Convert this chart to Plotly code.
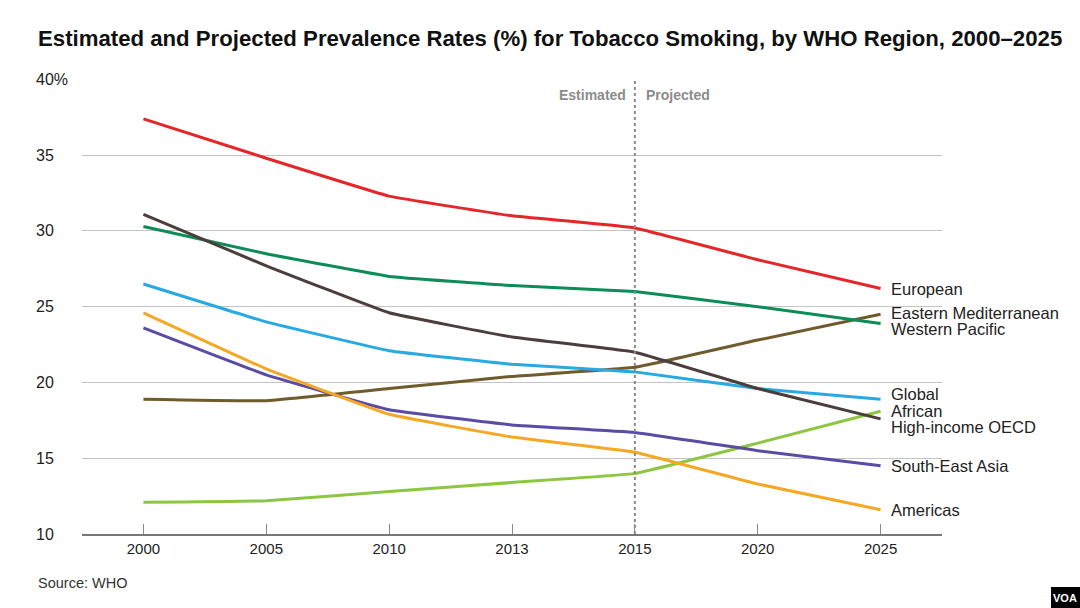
import plotly.graph_objects as go

years = ["2000", "2005", "2010", "2013", "2015", "2020", "2025"]

european = [37.4, 34.8, 32.3, 31.0, 30.2, 28.1, 26.2]
western_pacific = [30.3, 28.5, 27.0, 26.4, 26.0, 25.0, 23.9]
high_income_oecd = [31.1, 27.7, 24.6, 23.0, 22.0, 19.6, 17.6]
global_ = [26.5, 24.0, 22.1, 21.2, 20.7, 19.6, 18.9]
eastern_med = [18.9, 18.8, 19.6, 20.4, 21.0, 22.8, 24.5]
south_east_asia = [23.6, 20.5, 18.2, 17.2, 16.7, 15.5, 14.5]
americas = [24.6, 20.9, 17.9, 16.4, 15.4, 13.3, 11.6]
african = [12.1, 12.2, 12.8, 13.4, 14.0, 16.0, 18.1]

series_names = ["European", "Eastern Mediterranean", "Western Pacific", "Global",
                "African", "High-income OECD", "South-East Asia", "Americas"]
series_values = [european, eastern_med, western_pacific, global_,
                 african, high_income_oecd, south_east_asia, americas]
series_colors = ["#e52629", "#6f5b2c", "#0c8c57", "#27a9e1",
                 "#8dc641", "#4b3e3c", "#5b4ba3", "#f5a824"]
label_yshift = [0, 1, -6, 5, 0, -8, 0, 0]

y_tick_vals = [10, 15, 20, 25, 30, 35, 40]
y_tick_text = ["10", "15", "20", "25", "30", "35", "40%"]

divider_year = "2015"

W, H = 1080, 608
L, R, T, B = 82, 138, 79, 74
PW, PH = W - L - R, H - T - B
FONT = "Liberation Sans, Arial, sans-serif"


def px_to_paper(px, py):
    return (px - L) / PW, (H - B - py) / PH


last_idx = len(years) - 1
div_idx = years.index(divider_year)

fig = go.Figure()

for name, vals, col in zip(series_names, series_values, series_colors):
    fig.add_trace(go.Scatter(
        x=list(range(len(years))), y=vals, mode="lines", name=name,
        line=dict(color=col, width=3, shape="spline", smoothing=0.25),
        hovertemplate=name + ": %{y}<extra></extra>",
    ))

annotations = []
for name, vals, col, ys in zip(series_names, series_values, series_colors, label_yshift):
    annotations.append(dict(
        x=last_idx, y=vals[-1], xref="x", yref="y", text=name,
        showarrow=False, xanchor="left", yanchor="middle", xshift=8, yshift=ys,
        font=dict(family=FONT, size=16.5, color="#222222"),
    ))

for v, t in zip(y_tick_vals, y_tick_text):
    annotations.append(dict(
        x=0, y=v, xref="paper", yref="y", text=t, showarrow=False,
        xanchor="left", yanchor="middle", xshift=-48,
        font=dict(family=FONT, size=16, color="#222222"),
    ))

sx, sy = px_to_paper(36, 583)
vx, vy = px_to_paper(1065, 598)
tx, ty = px_to_paper(36, 38)
annotations += [
    dict(x=div_idx, y=40, xref="x", yref="y", text="<b>Estimated</b>", showarrow=False,
         xanchor="right", yanchor="middle", xshift=-7, yshift=-16,
         font=dict(family=FONT, size=14, color="#8c8c8c")),
    dict(x=div_idx, y=40, xref="x", yref="y", text="<b>Projected</b>", showarrow=False,
         xanchor="left", yanchor="middle", xshift=9, yshift=-16,
         font=dict(family=FONT, size=14, color="#8c8c8c")),
    dict(x=sx, y=sy, xref="paper", yref="paper", text="Source: WHO",
         showarrow=False, xanchor="left", yanchor="middle",
         font=dict(family=FONT, size=14.5, color="#333333")),
    dict(x=vx, y=vy, xref="paper", yref="paper", text="<b>VOA</b>",
         showarrow=False, xanchor="center", yanchor="middle",
         font=dict(family="Liberation Sans Narrow, Liberation Sans, sans-serif", size=11, color="#ffffff")),
    dict(x=tx, y=ty, xref="paper", yref="paper",
         text="<b>Estimated and Projected Prevalence Rates (%) for Tobacco Smoking, by WHO Region, 2000–2025</b>",
         showarrow=False, xanchor="left", yanchor="middle",
         font=dict(family=FONT, size=22.2, color="#111111")),
]

bx0, by0 = px_to_paper(1051, 608)
bx1, by1 = px_to_paper(1080, 587)
shapes = [
    dict(type="line", xref="x", yref="y", x0=div_idx, x1=div_idx, y0=10, y1=40,
         line=dict(color="#8a8a8a", width=2, dash="dot")),
    dict(type="rect", xref="paper", yref="paper", x0=bx0, x1=bx1, y0=by0, y1=by1,
         fillcolor="#000000", line=dict(width=0)),
]

fig.update_layout(
    width=W, height=H,
    margin=dict(l=L, r=R, t=T, b=B),
    paper_bgcolor="#ffffff", plot_bgcolor="#ffffff",
    showlegend=False,
    font=dict(family=FONT, color="#222222"),
    xaxis=dict(
        range=[-0.5, len(years) - 0.5], tickmode="array",
        tickvals=list(range(len(years))), ticktext=years,
        showgrid=False, zeroline=False,
        showline=True, linecolor="#777777", linewidth=1.5,
        ticks="inside", ticklen=10, tickcolor="#888888", tickwidth=1,
        tickfont=dict(family=FONT, size=15, color="#222222"),
        fixedrange=True,
    ),
    yaxis=dict(
        range=[10, 40.03], tickvals=y_tick_vals, showticklabels=False,
        showgrid=True, gridcolor="#c4c4c4", gridwidth=1, zeroline=False,
        showline=False, fixedrange=True,
    ),
    annotations=annotations,
    shapes=shapes,
)

fig.write_html("out.html", config={"displayModeBar": False},
               post_script="document.body.style.margin='0';")
